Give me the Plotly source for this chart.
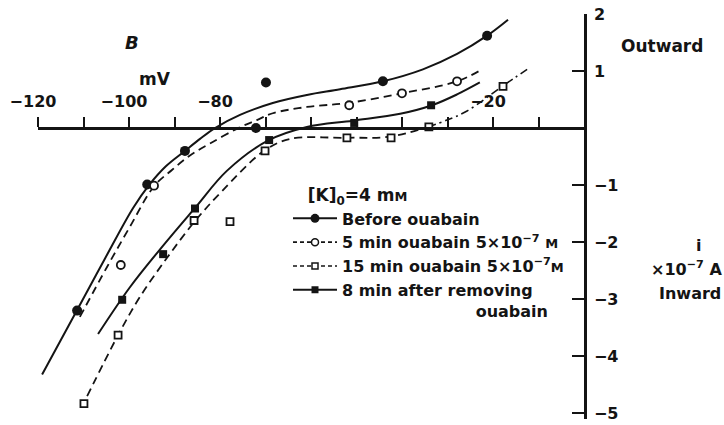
import plotly.graph_objects as go

# Membrane potential (mV) and membrane current (x 10^-7 A), [K]o = 4 mM
before_v = [-111.4, -96.0, -87.7, -72.1, -69.9, -44.2, -21.3]
before_i = [-3.20, -0.99, -0.40, 0.00, 0.80, 0.82, 1.62]

oua5_v = [-101.8, -94.5, -51.6, -40.0, -27.9]
oua5_i = [-2.40, -1.01, 0.40, 0.61, 0.82]

oua15_v = [-109.9, -102.4, -85.7, -77.8, -70.1, -52.1, -42.4, -34.1, -17.8]
oua15_i = [-4.83, -3.63, -1.62, -1.64, -0.40, -0.17, -0.17, 0.02, 0.73]

wash_v = [-101.5, -92.5, -85.5, -69.2, -50.5, -33.6]
wash_i = [-3.01, -2.21, -1.41, -0.21, 0.09, 0.40]

# Hand-drawn fitted curves
before_fit_v = [-119.1, -111.4, -105.3, -99.1, -95.6, -91.9, -87.7, -84.4, -81.1,
                -75.6, -68.4, -60.9, -53.6, -44.2, -35.4, -27.9, -21.3, -16.7]
before_fit_i = [-4.32, -3.19, -2.29, -1.40, -1.00, -0.67, -0.40, -0.19, 0.00,
                0.23, 0.44, 0.58, 0.68, 0.82, 1.03, 1.30, 1.62, 1.90]

oua5_fit_v = [-110.8, -104.8, -99.8, -94.5, -90.5, -86.6, -82.2, -76.0, -71.9,
              -68.4, -60.9, -51.9, -40.0, -27.9, -22.4]
oua5_fit_i = [-3.31, -2.43, -1.73, -1.02, -0.73, -0.48, -0.27, 0.00, 0.14,
              0.26, 0.37, 0.44, 0.61, 0.82, 1.03]

oua15_fit_v = [-109.2, -102.4, -97.6, -91.6, -85.5, -79.6, -70.5, -64.6, -52.1,
               -42.6, -34.3]
oua15_fit_i = [-4.70, -3.63, -2.96, -2.27, -1.63, -1.11, -0.41, -0.19, -0.17,
               -0.15, 0.02]
oua15_tail_v = [-34.3, -30.1, -25.7, -18.0, -12.5]
oua15_tail_i = [0.02, 0.14, 0.30, 0.73, 1.03]

wash_fit_v = [-106.8, -99.8, -92.5, -85.5, -78.5, -69.5, -60.9, -50.8, -40.4,
              -33.4, -27.9, -22.9]
wash_fit_i = [-3.61, -2.79, -2.06, -1.40, -0.75, -0.22, 0.02, 0.13, 0.25,
              0.40, 0.59, 0.80]

x_major = [-120, -100, -80, -20]
x_major_text = ["\u2212120", "\u2212100", "\u221280", "\u221220"]
x_minor = [-110, -90, -70, -60, -50, -40, -30, -10]
y_ticks = [2, 1, -1, -2, -3, -4, -5]
y_labels = ["2", "1", "\u22121", "\u22122", "\u22123", "\u22124", "\u22125"]

small_m = '<span style="font-size:13px">M</span>'
names = [
    "Before ouabain",
    "5 min ouabain 5\u00d710<sup>\u22127</sup> " + small_m,
    "15 min ouabain 5\u00d710<sup>\u22127</sup>" + small_m,
    "8 min after removing<br>" + "\u00a0" * 24 + "ouabain",
]

INK = "#141414"
FONT = "DejaVu Sans"
W, H = 724, 425
L, R, T, B = 38, 140, 14, 2
Y_RANGE = [-5.1, 2]


def px(x):
    return (x - L) / (W - L - R)


def py(y):
    return (H - B - y) / (H - T - B)


dash = "8px,5px"
dashdot = "8px,4px,2px,4px"
SMOOTH = 1.0

fig = go.Figure()

# fitted curves
curve_defs = [
    (before_fit_v, before_fit_i, dict(color=INK, width=2)),
    (oua5_fit_v, oua5_fit_i, dict(color=INK, width=1.8, dash=dash)),
    (oua15_fit_v, oua15_fit_i, dict(color=INK, width=1.8, dash=dash)),
    (oua15_tail_v, oua15_tail_i, dict(color=INK, width=1.6, dash=dashdot)),
    (wash_fit_v, wash_fit_i, dict(color=INK, width=2)),
]
for cx, cy, ln in curve_defs:
    fig.add_trace(go.Scatter(x=cx, y=cy, mode="lines",
                             line=dict(ln, shape="spline", smoothing=SMOOTH),
                             showlegend=False, hoverinfo="skip"))

# measured points
point_defs = [
    (before_v, before_i, dict(symbol="circle", size=10, color=INK)),
    (oua5_v, oua5_i, dict(symbol="circle", size=8, color="white", line=dict(width=1.8, color=INK))),
    (oua15_v, oua15_i, dict(symbol="square", size=7, color="white", line=dict(width=1.8, color=INK))),
    (wash_v, wash_i, dict(symbol="square", size=8, color=INK)),
]
for vx, vy, mk in point_defs:
    fig.add_trace(go.Scatter(x=vx, y=vy, mode="markers", marker=mk,
                             showlegend=False, cliponaxis=False))

# legend entries (line + symbol)
legend_styles = [
    (dict(color=INK, width=2), dict(symbol="circle", size=9, color=INK)),
    (dict(color=INK, width=1.6, dash="4px,3px"),
     dict(symbol="circle", size=7, color="white", line=dict(width=1.5, color=INK))),
    (dict(color=INK, width=1.6, dash="4px,3px"),
     dict(symbol="square", size=6, color="white", line=dict(width=1.5, color=INK))),
    (dict(color=INK, width=2), dict(symbol="square", size=7, color=INK)),
]
for name, (ln, mk) in zip(names, legend_styles):
    fig.add_trace(go.Scatter(x=[None], y=[None], mode="lines+markers", name=name,
                             line=ln, marker=mk))

axis_font = dict(family=FONT, size=16, color=INK, weight="bold")

fig.update_layout(
    width=W, height=H,
    margin=dict(l=L, r=R, t=T, b=B),
    paper_bgcolor="white", plot_bgcolor="white",
    font=dict(family=FONT, size=16, color=INK),
    xaxis=dict(
        range=[-120, 0], anchor="free", side="top",
        position=(0 - Y_RANGE[0]) / (Y_RANGE[1] - Y_RANGE[0]),
        showline=True, linewidth=2.5, linecolor=INK,
        ticks="outside", ticklen=10, tickwidth=2, tickcolor=INK,
        tickvals=x_major, ticktext=x_major_text, tickfont=axis_font,
        ticklabelstandoff=4, ticklabelshift=-5,
        minor=dict(tickmode="array", tickvals=x_minor, ticks="outside",
                   ticklen=10, tickwidth=2, tickcolor=INK, showgrid=False),
        showgrid=False, zeroline=False,
    ),
    yaxis=dict(
        range=Y_RANGE, side="right", anchor="x",
        showline=True, linewidth=2.5, linecolor=INK,
        ticks="inside", ticklen=12, tickwidth=2, tickcolor=INK,
        tickvals=y_ticks, ticktext=y_labels, tickfont=axis_font,
        ticklabelstandoff=4, ticklabeloverflow="allow",
        showgrid=False, zeroline=False,
    ),
    legend=dict(
        x=px(288), y=py(181), xanchor="left", yanchor="top",
        bgcolor="rgba(0,0,0,0)", borderwidth=0,
        font=dict(family=FONT, size=16, color=INK, weight="bold"),
        itemwidth=44, valign="top", tracegroupgap=0,
        title=dict(text="\u00a0\u00a0\u00a0[K]<sub>0</sub>=4 m" + small_m,
                   font=dict(family=FONT, size=17, color=INK, weight="bold")),
    ),
    showlegend=True,
)

notes = [
    ("<i>B</i>", 132, 43, 18),
    ("mV", 155, 80, 17),
    ("Outward", 662, 46, 17),
    ("i", 698, 248, 16),
    ("\u00d710<sup>\u22127</sup> A", 686, 271, 16),
    ("Inward", 690, 296, 16),
]
for txt, x0, y0, size in notes:
    fig.add_annotation(text=txt, x=px(x0), y=py(y0), xref="paper", yref="paper",
                       showarrow=False, xanchor="center", yanchor="middle",
                       font=dict(family=FONT, size=size, color=INK, weight="bold"))

fig.write_html("out.html")
